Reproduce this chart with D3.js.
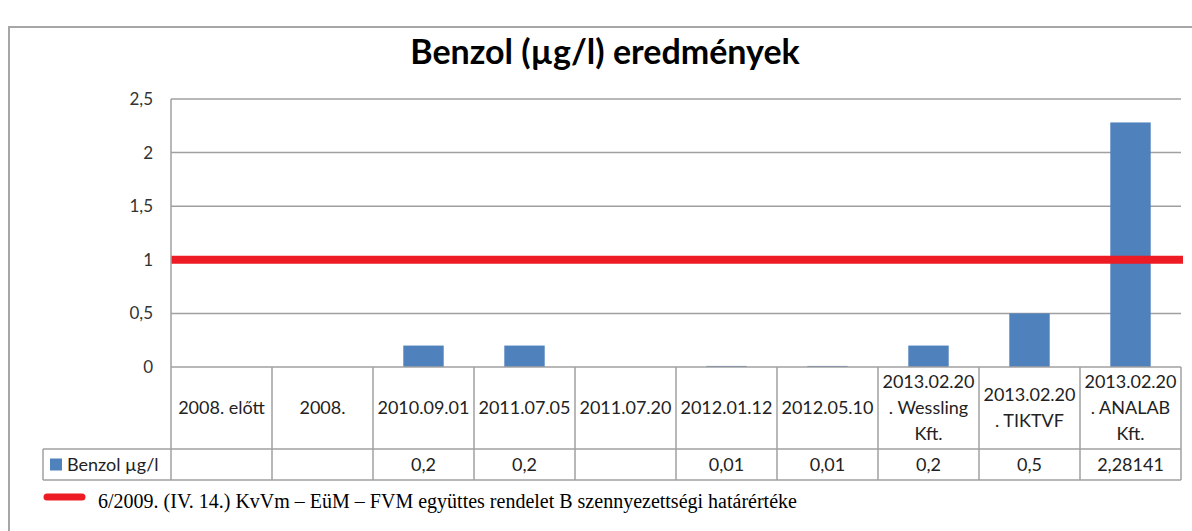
<!DOCTYPE html>
<html>
<head>
<meta charset="utf-8">
<script src="https://cdn.jsdelivr.net/npm/d3@7"></script>
<style>
  body { margin: 0; background: #fff; }
  svg { display: block; }
</style>
</head>
<body>
<div id="chart"></div>
<script>
// Chart data
const categories = [
    ["2008. előtt"],
    ["2008."],
    ["2010.09.01"],
    ["2011.07.05"],
    ["2011.07.20"],
    ["2012.01.12"],
    ["2012.05.10"],
    ["2013.02.20", ". Wessling", "Kft."],
    ["2013.02.20", ". TIKTVF"],
    ["2013.02.20", ". ANALAB", "Kft."]
];
const benzolValues = [null, null, 0.2, 0.2, null, 0.01, 0.01, 0.2, 0.5, 2.28141];
const yTicks = [0, 0.5, 1, 1.5, 2, 2.5];
const limitValue = 1;
const titleText = "Benzol (µg/l) eredmények";
const seriesName = "Benzol µg/l";
const limitName = "6/2009. (IV. 14.) KvVm – EüM – FVM együttes rendelet B szennyezettségi határértéke";

const width = 1192, height = 531;
const margin = { top: 99, right: 11, left: 171 };
const plotBottom = 367;
const headerBottom = 449;
const legendRowBottom = 480;
const sansFont = "Lato, 'Open Sans', sans-serif";

const svg = d3.select("#chart").append("svg")
    .attr("width", width)
    .attr("height", height);

// outer frame
svg.append("rect")
    .attr("x", 9).attr("y", 27)
    .attr("width", width).attr("height", height)
    .attr("fill", "none")
    .attr("stroke", "#a6a6a6")
    .attr("stroke-width", 2);

// title
svg.append("text")
    .attr("x", 605).attr("y", 64)
    .attr("text-anchor", "middle")
    .style("font-family", sansFont)
    .style("font-weight", "bold")
    .style("font-size", "34px")
    .attr("fill", "#000")
    .text(titleText);

// scales
const x = d3.scaleBand()
    .domain(d3.range(categories.length))
    .range([margin.left, width - margin.right])
    .padding(0);

const y = d3.scaleLinear()
    .domain([0, 2.5])
    .range([plotBottom, margin.top]);

const gridColor = "#a0a0a0";

// gridlines
svg.append("g")
    .selectAll("line")
    .data(yTicks.filter(d => d > 0))
    .join("line")
    .attr("x1", margin.left).attr("x2", width - margin.right)
    .attr("y1", d => y(d)).attr("y2", d => y(d))
    .attr("stroke", gridColor)
    .attr("stroke-width", 1.5);

// y axis labels
const yAxis = d3.axisLeft(y)
    .tickValues(yTicks)
    .tickSize(0)
    .tickPadding(18)
    .tickFormat(d => String(d).replace(".", ","));

const yg = svg.append("g")
    .attr("transform", `translate(${margin.left},0)`)
    .call(yAxis);
yg.select(".domain").remove();
yg.selectAll("text")
    .style("font-family", sansFont)
    .style("font-size", "17px")
    .attr("fill", "#333");

// bars
const barW = x.bandwidth() * 0.4;
svg.append("g")
    .selectAll("rect")
    .data(benzolValues.map((v, i) => ({ i, v })).filter(d => d.v != null))
    .join("rect")
    .attr("x", d => x(d.i) + (x.bandwidth() - barW) / 2)
    .attr("width", barW)
    .attr("y", d => y(d.v))
    .attr("height", d => y(0) - y(d.v))
    .attr("fill", "#4f81bd");

// limit line
svg.append("line")
    .attr("x1", margin.left).attr("x2", width - margin.right + 2)
    .attr("y1", y(limitValue)).attr("y2", y(limitValue))
    .attr("stroke", "#ed1c24")
    .attr("stroke-width", 8);

// data table
const table = svg.append("g");
const rightEdge = width - margin.right;

// horizontal borders
table.append("line")
    .attr("x1", margin.left).attr("x2", rightEdge)
    .attr("y1", plotBottom).attr("y2", plotBottom);
table.append("line")
    .attr("x1", 43).attr("x2", rightEdge)
    .attr("y1", headerBottom).attr("y2", headerBottom);
table.append("line")
    .attr("x1", 43).attr("x2", rightEdge)
    .attr("y1", legendRowBottom).attr("y2", legendRowBottom);

// vertical borders
const boundaries = d3.range(categories.length + 1).map(i => margin.left + i * x.step());
table.selectAll("line.v")
    .data(boundaries)
    .join("line")
    .attr("class", "v")
    .attr("x1", d => d).attr("x2", d => d)
    .attr("y1", (d, i) => i === 0 ? margin.top : plotBottom)
    .attr("y2", legendRowBottom);
table.append("line")
    .attr("x1", 43).attr("x2", 43)
    .attr("y1", headerBottom).attr("y2", legendRowBottom);

table.selectAll("line")
    .attr("stroke", gridColor)
    .attr("stroke-width", 1.5);

// category labels
const lineH = 26;
const headerMid = (plotBottom + headerBottom) / 2;
const catText = table.selectAll("text.cat")
    .data(categories)
    .join("text")
    .attr("class", "cat")
    .attr("text-anchor", "middle")
    .style("font-family", sansFont)
    .style("font-size", "18px")
    .attr("fill", "#222");

catText.selectAll("tspan")
    .data((d, i) => d.map((t, j) => ({ t, j, n: d.length, i })))
    .join("tspan")
    .attr("x", d => x(d.i) + x.bandwidth() / 2)
    .attr("y", d => headerMid + (d.j - (d.n - 1) / 2) * lineH)
    .attr("dy", "0.35em")
    .text(d => d.t);

// value row
const rowMid = (headerBottom + legendRowBottom) / 2;
table.selectAll("text.val")
    .data(benzolValues)
    .join("text")
    .attr("class", "val")
    .attr("x", (d, i) => x(i) + x.bandwidth() / 2)
    .attr("y", rowMid)
    .attr("dy", "0.35em")
    .attr("text-anchor", "middle")
    .style("font-family", sansFont)
    .style("font-size", "18px")
    .attr("fill", "#222")
    .text(d => d == null ? "" : String(d).replace(".", ","));

// series key in table
table.append("rect")
    .attr("x", 50).attr("y", rowMid - 6)
    .attr("width", 12).attr("height", 12)
    .attr("fill", "#4f81bd");
table.append("text")
    .attr("x", 67).attr("y", rowMid)
    .attr("dy", "0.35em")
    .style("font-family", sansFont)
    .style("font-size", "18px")
    .attr("fill", "#222")
    .text(seriesName);

// limit legend
svg.append("line")
    .attr("x1", 47).attr("x2", 82)
    .attr("y1", 497).attr("y2", 497)
    .attr("stroke", "#ed1c24")
    .attr("stroke-width", 7)
    .attr("stroke-linecap", "round");
svg.append("text")
    .attr("x", 98).attr("y", 508)
    .style("font-family", "'Liberation Serif', 'Times New Roman', serif")
    .style("font-size", "20px")
    .attr("fill", "#000")
    .text(limitName);
</script>
</body>
</html>
